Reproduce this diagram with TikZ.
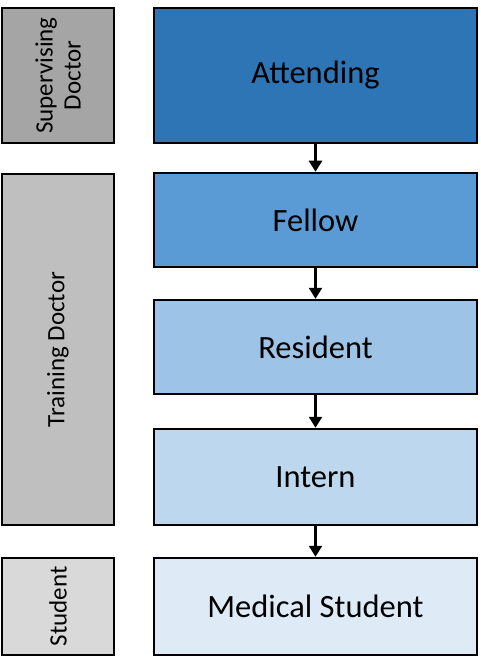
\documentclass[tikz,border=0pt]{standalone}
\usepackage{fontspec}
\setmainfont{Carlito}
\usetikzlibrary{arrows.meta}

\definecolor{attendblue}{HTML}{2E75B6}
\definecolor{fellowblue}{HTML}{5B9BD5}
\definecolor{residentblue}{HTML}{9DC3E6}
\definecolor{internblue}{HTML}{BDD7EE}
\definecolor{studentblue}{HTML}{DEEBF7}
\definecolor{supgray}{HTML}{A5A5A5}
\definecolor{traingray}{HTML}{BFBFBF}
\definecolor{studgray}{HTML}{D9D9D9}

\tikzset{
  rankbox/.style={draw=black, line width=2.5pt, minimum width=323pt, inner sep=0pt,
    font=\fontsize{32.5}{38}\selectfont},
  groupbox/.style={draw=black, line width=2.5pt, rotate=90, minimum height=112pt, inner sep=0pt,
    align=center, font=\fontsize{25}{28}\selectfont},
  flow/.style={line width=2.5pt, -{Triangle[width=13pt,length=11pt]}}
}

\begin{document}
\begin{tikzpicture}[x=1pt,y=-1pt]

\useasboundingbox (0,0) rectangle (480,660);

% rank boxes
\node[rankbox, fill=attendblue, minimum height=135pt] (attending) at (315.5,75.5) {Attending};
\node[rankbox, fill=fellowblue, minimum height=94pt] (fellow) at (315.5,220) {Fellow};
\node[rankbox, fill=residentblue, minimum height=94pt] (resident) at (315.5,347) {Resident};
\node[rankbox, fill=internblue, minimum height=96pt] (intern) at (315.5,477) {Intern};
\node[rankbox, fill=studentblue, minimum height=97pt] (medstudent) at (315.5,606.5) {Medical Student};

% groups on the left
\node[groupbox, fill=supgray, minimum width=135pt] (supervising) at (58,75.5) {Supervising\\Doctor};
\node[groupbox, fill=traingray, minimum width=351pt] (training) at (58,349.5) {Training Doctor};
\node[groupbox, fill=studgray, minimum width=97pt] (student) at (58,606.5) {Student};

% arrows
\draw[flow] (attending) -- (fellow);
\draw[flow] (fellow) -- (resident);
\draw[flow] (resident) -- (intern);
\draw[flow] (intern) -- (medstudent);

\end{tikzpicture}
\end{document}
